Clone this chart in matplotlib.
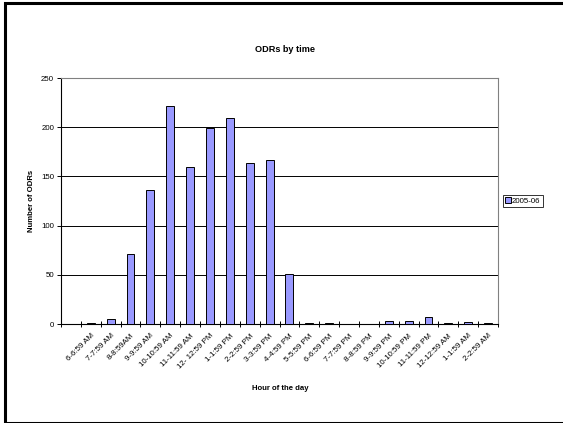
import matplotlib
matplotlib.use("Agg")
import matplotlib.pyplot as plt
from matplotlib.patches import Rectangle
import numpy as np

plt.rcParams['font.family'] = ['Liberation Sans', 'DejaVu Sans']

hours = ["", "6-6:59 AM", "7-7:59 AM", "8-8:59AM", "9-9:59 AM", "10-10:59 AM",
         "11-11:59 AM", "12- 12:59 PM", "1-1:59 PM", "2-2:59 PM", "3-3:59 PM",
         "4-4:59 PM", "5-5:59 PM", "6-6:59 PM", "7-7:59 PM", "8-8:59 PM",
         "9-9:59 PM", "10-10:59 PM", "11-11:59 PM", "12-12:59 AM", "1-1:59 AM",
         "2-2:59 AM"]
odrs_2005_06 = [0, 1, 5, 71, 136, 222, 160, 199, 209, 164, 167, 51, 1, 1, 0, 0,
                3, 3, 7, 1, 2, 1]
series_name = "2005-06"
y_ticks = [0, 50, 100, 150, 200, 250]

W, H = 563, 423
fig = plt.figure(figsize=(W / 100, H / 100), dpi=100)

# outer chart frame
fig.add_artist(Rectangle((4.5 / W, 0.5 / H), (575 - 4.5) / W, (419 / H),
                         transform=fig.transFigure, fill=False,
                         edgecolor="black", linewidth=2.2, clip_on=False))

ax = fig.add_axes([61 / W, 1 - 324 / H, (498 - 61) / W, (324 - 78) / H])

x = np.arange(len(hours))
bars = ax.bar(x, odrs_2005_06, width=0.4, color="#9999FF",
              edgecolor="black", linewidth=0.7, label=series_name, zorder=3)

ax.set_xlim(-0.5, len(hours) - 0.5)
ax.set_ylim(0, 250)
ax.set_yticks(y_ticks)
ax.yaxis.grid(True, color="black", linewidth=0.7, zorder=0)
ax.set_axisbelow(True)

# category boundaries carry the tick marks, labels sit at the centres
ax.set_xticks(np.arange(len(hours) + 1) - 0.5)
ax.set_xticklabels([])
ax.set_xticks(x, minor=True)
ax.set_xticklabels(hours, minor=True, rotation=45, ha="right",
                   rotation_mode="anchor", fontsize=5.7)
ax.tick_params(axis="x", which="major", direction="inout", length=5,
               width=0.7)
ax.tick_params(axis="x", which="minor", length=0, pad=6)
ax.tick_params(axis="y", direction="out", length=3, width=0.7,
               labelsize=5.7, pad=2)

for side in ("top", "right"):
    ax.spines[side].set_color("#808080")
    ax.spines[side].set_linewidth(0.8)
for side in ("left", "bottom"):
    ax.spines[side].set_color("black")
    ax.spines[side].set_linewidth(0.8)

fig.text(285 / W, 1 - 50 / H, "ODRs by time", ha="center", va="center",
         fontsize=6.6, fontweight="bold")
fig.text(280 / W, 1 - 388 / H, "Hour of the day", ha="center",
         va="center", fontsize=5.6, fontweight="bold")
fig.text(31.5 / W, 1 - 201 / H, "Number of ODRs", ha="center", va="center",
         rotation=90, fontsize=5.6, fontweight="bold")

leg = fig.legend(handles=[bars], labels=[series_name], loc="center left",
                 bbox_to_anchor=(503 / W, 1 - 201 / H), fontsize=5.7,
                 frameon=True, fancybox=False, edgecolor="black",
                 handlelength=0.7, handleheight=0.7, handletextpad=0.2,
                 borderpad=0.25, borderaxespad=0)
leg.get_frame().set_linewidth(0.7)

fig.savefig("out.png", dpi=100)
